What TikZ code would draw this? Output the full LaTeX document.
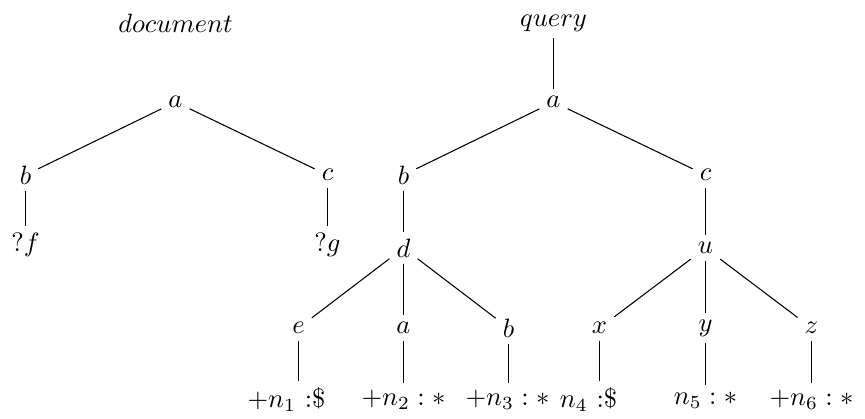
\documentclass[tikz,border=0pt]{standalone}
\begin{document}
\begin{tikzpicture}[x=0.377pt,y=-0.377pt,
  lbl/.style={inner sep=2.5pt},
  edge/.style={draw=black,line width=0.4pt}]
\useasboundingbox (-0.5,0) rectangle (864.5,418);
% document tree
\node[lbl] (doc) at (175,23) {$document$};
\node[lbl] (da) at (175,102) {$a$};
\node[lbl] (db) at (25,175) {$b$};
\node[lbl] (dc) at (327,175) {$c$};
\node[lbl] (df) at (25,245) {$?f$};
\node[lbl] (dg) at (327,245) {$?g$};
\draw[edge] (da) -- (db);
\draw[edge] (da) -- (dc);
\draw[edge] (db) -- (db |- df.north);
\draw[edge] (dc) -- (dc |- dg.north);
% query tree
\node[lbl] (qry) at (553,23) {$query$};
\node[lbl] (qa) at (553,102) {$a$};
\node[lbl] (qb) at (403,175) {$b$};
\node[lbl] (qc) at (705,175) {$c$};
\node[lbl] (qd) at (403,248) {$d$};
\node[lbl] (qu) at (705,248) {$u$};
\node[lbl] (qe) at (298,328) {$e$};
\node[lbl] (qa2) at (403,328) {$a$};
\node[lbl] (qb2) at (508,328) {$b$};
\node[lbl] (qx) at (599,328) {$x$};
\node[lbl] (qy) at (705,328) {$y$};
\node[lbl] (qz) at (811,328) {$z$};
\node[lbl] (n1) at (286,400) {$+n_1$ :\$};
\node[lbl] (n2) at (403,400) {$+n_2 : *$};
\node[lbl] (n3) at (507,400) {$+n_3 : *$};
\node[lbl] (n4) at (588,400) {$n_4$ :\$};
\node[lbl] (n5) at (705,400) {$n_5 : *$};
\node[lbl] (n6) at (811,400) {$+n_6 : *$};
\draw[edge] (qry) -- (qa);
\draw[edge] (qa) -- (qb);
\draw[edge] (qa) -- (qc);
\draw[edge] (qb) -- (qd);
\draw[edge] (qc) -- (qu);
\draw[edge] (qd) -- (qe);
\draw[edge] (qd) -- (qa2);
\draw[edge] (qd) -- (qb2);
\draw[edge] (qu) -- (qx);
\draw[edge] (qu) -- (qy);
\draw[edge] (qu) -- (qz);
\draw[edge] (qe) -- (qe |- n1.north);
\draw[edge] (qa2) -- (qa2 |- n2.north);
\draw[edge] (qb2) -- (qb2 |- n3.north);
\draw[edge] (qx) -- (qx |- n4.north);
\draw[edge] (qy) -- (qy |- n5.north);
\draw[edge] (qz) -- (qz |- n6.north);
\end{tikzpicture}
\end{document}
